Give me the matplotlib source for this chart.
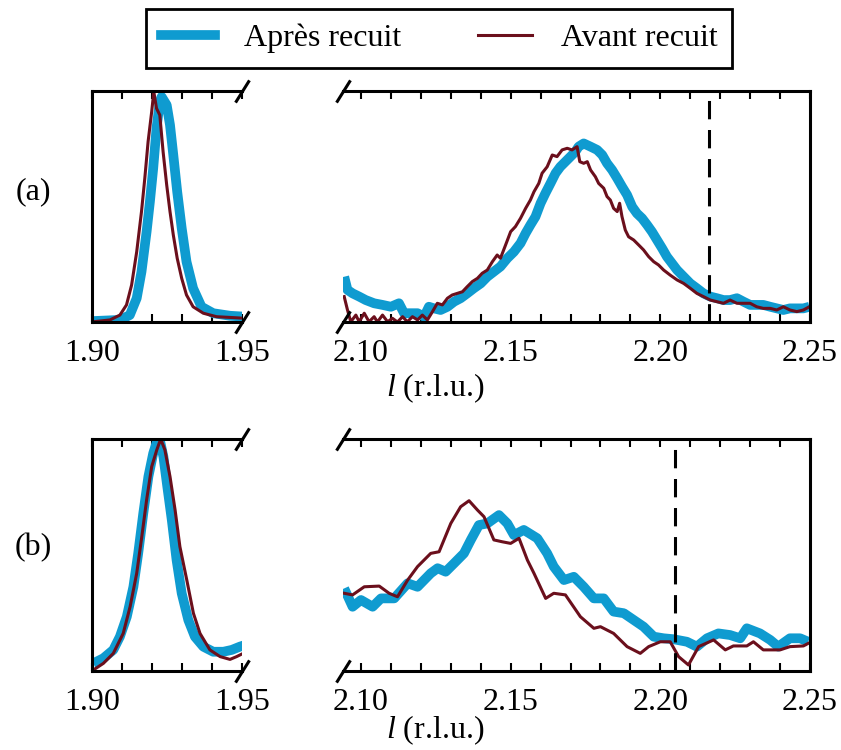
import matplotlib
matplotlib.use("Agg")
import matplotlib.pyplot as plt
from matplotlib.ticker import MultipleLocator

plt.rcParams['font.family'] = ['Liberation Serif', 'DejaVu Serif']
plt.rcParams['mathtext.fontset'] = 'custom'
plt.rcParams['mathtext.it'] = 'Liberation Serif:italic'
plt.rcParams['mathtext.rm'] = 'Liberation Serif'

BLUE = '#0f9bd0'
RED = '#6b0f1c'

# ---- (a) pic principal
a_pk_x_apres = [1.9004, 1.9093, 1.9126, 1.9149, 1.9165, 1.9182, 1.9193, 1.9204, 1.9215, 1.9226,
                1.9232, 1.9249, 1.9260, 1.9271, 1.9284, 1.9299, 1.9315, 1.9337, 1.9365, 1.9404,
                1.9460, 1.9510]
a_pk_y_apres = [0.004, 0.009, 0.030, 0.103, 0.218, 0.391, 0.521, 0.665, 0.838, 0.954,
                0.975, 0.939, 0.853, 0.723, 0.564, 0.406, 0.261, 0.146, 0.066, 0.038,
                0.027, 0.023]
a_pk_x_avant = [1.9004, 1.9060, 1.9093, 1.9115, 1.9132, 1.9149, 1.9165, 1.9176, 1.9187, 1.9199,
                1.9206, 1.9215, 1.9226, 1.9237, 1.9249, 1.9260, 1.9271, 1.9284, 1.9299, 1.9315,
                1.9337, 1.9371, 1.9415, 1.9471, 1.9510]
a_pk_y_avant = [0.001, 0.009, 0.030, 0.074, 0.160, 0.304, 0.478, 0.622, 0.781, 0.911,
                0.997, 0.925, 0.896, 0.737, 0.593, 0.478, 0.377, 0.276, 0.189, 0.117,
                0.066, 0.038, 0.023, 0.019, 0.016]

# ---- (a) pic secondaire
a_sat_x_apres = [2.0944, 2.0955, 2.0972, 2.0994, 2.1016, 2.1044, 2.1072, 2.1100, 2.1127, 2.1144,
                 2.1166, 2.1189, 2.1211, 2.1227, 2.1244, 2.1266, 2.1289, 2.1311, 2.1333, 2.1355,
                 2.1377, 2.1400, 2.1422, 2.1444, 2.1466, 2.1489, 2.1511, 2.1533, 2.1550, 2.1566,
                 2.1583, 2.1600, 2.1616, 2.1633, 2.1650, 2.1666, 2.1683, 2.1700, 2.1716, 2.1727,
                 2.1744, 2.1767, 2.1789, 2.1806, 2.1822, 2.1839, 2.1856, 2.1872, 2.1889, 2.1906,
                 2.1922, 2.1939, 2.1956, 2.1972, 2.1989, 2.2006, 2.2022, 2.2039, 2.2056, 2.2078,
                 2.2100, 2.2122, 2.2144, 2.2167, 2.2189, 2.2211, 2.2233, 2.2256, 2.2278, 2.2300,
                 2.2322, 2.2344, 2.2367, 2.2389, 2.2411, 2.2433, 2.2456, 2.2478, 2.2498]
a_sat_y_apres = [0.196, 0.139, 0.124, 0.110, 0.095, 0.081, 0.074, 0.066, 0.081, 0.038,
                 0.038, 0.038, 0.023, 0.066, 0.059, 0.052, 0.066, 0.088, 0.103, 0.124,
                 0.146, 0.167, 0.196, 0.218, 0.240, 0.276, 0.304, 0.341, 0.384, 0.420,
                 0.456, 0.514, 0.557, 0.600, 0.644, 0.672, 0.694, 0.716, 0.737, 0.759,
                 0.773, 0.759, 0.745, 0.723, 0.687, 0.658, 0.622, 0.586, 0.550, 0.499,
                 0.470, 0.449, 0.420, 0.391, 0.355, 0.319, 0.283, 0.254, 0.225, 0.196,
                 0.167, 0.146, 0.124, 0.110, 0.103, 0.095, 0.095, 0.103, 0.088, 0.074,
                 0.074, 0.074, 0.066, 0.059, 0.052, 0.059, 0.059, 0.059, 0.066]
a_sat_x_avant = [2.0944, 2.0955, 2.0966, 2.0983, 2.0994, 2.1011, 2.1027, 2.1044, 2.1055, 2.1072,
                 2.1089, 2.1105, 2.1122, 2.1139, 2.1155, 2.1172, 2.1189, 2.1205, 2.1222, 2.1239,
                 2.1255, 2.1272, 2.1289, 2.1305, 2.1322, 2.1339, 2.1355, 2.1372, 2.1389, 2.1405,
                 2.1422, 2.1439, 2.1455, 2.1466, 2.1483, 2.1500, 2.1516, 2.1533, 2.1550, 2.1566,
                 2.1578, 2.1594, 2.1605, 2.1622, 2.1639, 2.1655, 2.1672, 2.1689, 2.1705, 2.1722,
                 2.1731, 2.1744, 2.1756, 2.1767, 2.1783, 2.1794, 2.1811, 2.1822, 2.1833, 2.1844,
                 2.1856, 2.1864, 2.1872, 2.1883, 2.1894, 2.1911, 2.1928, 2.1944, 2.1961, 2.1978,
                 2.1994, 2.2011, 2.2033, 2.2056, 2.2078, 2.2100, 2.2122, 2.2144, 2.2167, 2.2189,
                 2.2211, 2.2233, 2.2256, 2.2278, 2.2300, 2.2322, 2.2344, 2.2367, 2.2389, 2.2411,
                 2.2433, 2.2456, 2.2478, 2.2498]
a_sat_y_avant = [0.110, 0.052, 0.001, 0.030, 0.001, 0.038, 0.001, 0.023, 0.000, 0.030,
                 0.001, 0.016, 0.000, 0.023, 0.001, 0.023, 0.009, 0.030, 0.009, 0.045,
                 0.081, 0.074, 0.103, 0.117, 0.124, 0.131, 0.153, 0.175, 0.189, 0.211,
                 0.225, 0.261, 0.290, 0.276, 0.333, 0.391, 0.413, 0.449, 0.492, 0.528,
                 0.564, 0.600, 0.644, 0.672, 0.723, 0.716, 0.745, 0.752, 0.745, 0.759,
                 0.694, 0.687, 0.694, 0.658, 0.629, 0.600, 0.579, 0.543, 0.528, 0.492,
                 0.478, 0.514, 0.456, 0.398, 0.369, 0.355, 0.333, 0.312, 0.283, 0.261,
                 0.247, 0.225, 0.203, 0.182, 0.167, 0.146, 0.124, 0.110, 0.095, 0.088,
                 0.081, 0.095, 0.081, 0.081, 0.081, 0.066, 0.059, 0.059, 0.052, 0.066,
                 0.052, 0.045, 0.052, 0.066]
a_ref = 2.2161

# ---- (b) pic principal
b_pk_x_apres = [1.9004, 1.9038, 1.9071, 1.9093, 1.9116, 1.9138, 1.9154, 1.9171, 1.9188, 1.9204,
                1.9218, 1.9227, 1.9238, 1.9251, 1.9266, 1.9282, 1.9299, 1.9321, 1.9343, 1.9371,
                1.9404, 1.9438, 1.9466, 1.9493, 1.9510]
b_pk_y_apres = [0.033, 0.055, 0.091, 0.148, 0.234, 0.363, 0.507, 0.680, 0.838, 0.938,
                0.995, 0.990, 0.924, 0.795, 0.651, 0.478, 0.335, 0.220, 0.148, 0.105,
                0.083, 0.083, 0.091, 0.105, 0.112]
b_pk_x_avant = [1.9004, 1.9038, 1.9071, 1.9104, 1.9127, 1.9149, 1.9166, 1.9182, 1.9199, 1.9216,
                1.9229, 1.9243, 1.9260, 1.9277, 1.9293, 1.9316, 1.9338, 1.9360, 1.9393, 1.9427,
                1.9460, 1.9482, 1.9504]
b_pk_y_avant = [0.004, 0.033, 0.076, 0.162, 0.277, 0.421, 0.579, 0.737, 0.881, 0.953,
                1.000, 0.953, 0.838, 0.694, 0.536, 0.392, 0.249, 0.162, 0.091, 0.062,
                0.050, 0.062, 0.076]

# ---- (b) pic secondaire
b_sat_x_apres = [2.0944, 2.0972, 2.1000, 2.1039, 2.1067, 2.1111, 2.1156, 2.1189, 2.1233, 2.1256,
                 2.1283, 2.1311, 2.1344, 2.1367, 2.1394, 2.1422, 2.1461, 2.1489, 2.1511, 2.1544,
                 2.1589, 2.1622, 2.1644, 2.1678, 2.1711, 2.1744, 2.1778, 2.1811, 2.1844, 2.1878,
                 2.1911, 2.1944, 2.1978, 2.2011, 2.2044, 2.2089, 2.2122, 2.2156, 2.2194, 2.2233,
                 2.2267, 2.2289, 2.2333, 2.2367, 2.2394, 2.2433, 2.2467, 2.2494]
b_sat_y_apres = [0.356, 0.277, 0.306, 0.277, 0.313, 0.313, 0.378, 0.363, 0.421, 0.443,
                 0.428, 0.464, 0.507, 0.565, 0.629, 0.636, 0.672, 0.636, 0.586, 0.608,
                 0.572, 0.507, 0.450, 0.392, 0.406, 0.363, 0.313, 0.313, 0.256, 0.249,
                 0.220, 0.191, 0.148, 0.141, 0.137, 0.126, 0.105, 0.141, 0.162, 0.155,
                 0.141, 0.184, 0.162, 0.134, 0.105, 0.141, 0.141, 0.126]
b_sat_x_avant = [2.0944, 2.0972, 2.1011, 2.1061, 2.1094, 2.1122, 2.1156, 2.1189, 2.1233, 2.1261,
                 2.1300, 2.1333, 2.1361, 2.1389, 2.1411, 2.1444, 2.1472, 2.1500, 2.1528, 2.1556,
                 2.1578, 2.1617, 2.1644, 2.1683, 2.1733, 2.1778, 2.1800, 2.1844, 2.1889, 2.1933,
                 2.1961, 2.2000, 2.2033, 2.2061, 2.2094, 2.2128, 2.2178, 2.2217, 2.2244, 2.2289,
                 2.2311, 2.2344, 2.2400, 2.2433, 2.2478, 2.2494]
b_sat_y_avant = [0.335, 0.328, 0.363, 0.366, 0.335, 0.320, 0.392, 0.450, 0.507, 0.514,
                 0.636, 0.708, 0.734, 0.694, 0.665, 0.565, 0.557, 0.550, 0.572, 0.478,
                 0.421, 0.313, 0.335, 0.328, 0.234, 0.184, 0.191, 0.162, 0.105, 0.076,
                 0.105, 0.126, 0.126, 0.062, 0.026, 0.105, 0.134, 0.091, 0.108, 0.108,
                 0.126, 0.091, 0.091, 0.105, 0.108, 0.119]
b_ref = 2.2050

labels = ['(a)', '(b)']
leg_labels = ['Après recuit', 'Avant recuit']

FS = 23
W, H = 841, 750
fig = plt.figure(figsize=(W / 100, H / 100), dpi=100)


def casse(ax, xs):
    # petites barres obliques du bris d'axe
    ax.plot(xs, [0, 1], transform=ax.transAxes, ls='none',
            marker=[(-1, -1.6), (1, 1.6)], markersize=16, mec='k', mew=2.2,
            clip_on=False, zorder=10)


def panneau(rows, pk, sat, ref):
    y0, y1 = rows
    bot = 1 - y1 / H
    hgt = (y1 - y0) / H
    axl = fig.add_axes([92 / W, bot, 150 / W, hgt])
    axr = fig.add_axes([343 / W, bot, 467 / W, hgt])

    axl.plot(pk[0], pk[1], color=BLUE, lw=7, solid_capstyle='butt', solid_joinstyle='round')
    axl.plot(pk[2], pk[3], color=RED, lw=2.2)
    axr.plot(sat[0], sat[1], color=BLUE, lw=7, solid_capstyle='butt', solid_joinstyle='round')
    axr.plot(sat[2], sat[3], color=RED, lw=2.2)
    axr.axvline(ref, color='k', lw=2.2, ls=(0, (6, 3.5)))

    axl.set_xlim(1.90, 1.95)
    axr.set_xlim(2.094, 2.25)
    for ax in (axl, axr):
        ax.set_ylim(0, 1.0)
        ax.set_yticks([])
        for s in ax.spines.values():
            s.set_linewidth(2.2)
        ax.tick_params(axis='x', which='both', direction='in', top=True, bottom=True,
                       length=6, width=1.5, labelsize=FS, pad=12)
        ax.xaxis.set_major_locator(MultipleLocator(0.05))
        ax.xaxis.set_minor_locator(MultipleLocator(0.01))
        ax.xaxis.set_major_formatter('{x:.2f}')
    axl.spines['right'].set_visible(False)
    axr.spines['left'].set_visible(False)
    casse(axl, [1, 1])
    casse(axr, [0, 0])
    return axl, axr


panneau((91, 322),
        (a_pk_x_apres, a_pk_y_apres, a_pk_x_avant, a_pk_y_avant),
        (a_sat_x_apres, a_sat_y_apres, a_sat_x_avant, a_sat_y_avant), a_ref)
panneau((439, 671),
        (b_pk_x_apres, b_pk_y_apres, b_pk_x_avant, b_pk_y_avant),
        (b_sat_x_apres, b_sat_y_apres, b_sat_x_avant, b_sat_y_avant), b_ref)

fig.text(435 / W, 1 - 388 / H, '$l$ (r.l.u.)', fontsize=FS, ha='center', va='center')
fig.text(435 / W, 1 - 730 / H, '$l$ (r.l.u.)', fontsize=FS, ha='center', va='center')
fig.text(33 / W, 1 - 192 / H, labels[0], fontsize=FS, ha='center', va='center')
fig.text(33 / W, 1 - 548 / H, labels[1], fontsize=FS, ha='center', va='center')

h1, = plt.plot([], [], color=BLUE, lw=7)
h2, = plt.plot([], [], color=RED, lw=2.2)
leg = fig.legend([h1, h2], leg_labels, loc='center', bbox_to_anchor=(439 / W, 1 - 38.5 / H),
                 ncol=2, fontsize=FS, frameon=True, fancybox=False, edgecolor='k',
                 framealpha=1, handlelength=1.7, handletextpad=0.9, columnspacing=2.4,
                 borderpad=0.45, borderaxespad=0)
leg.get_frame().set_linewidth(2)

fig.savefig('out.png', dpi=100)
